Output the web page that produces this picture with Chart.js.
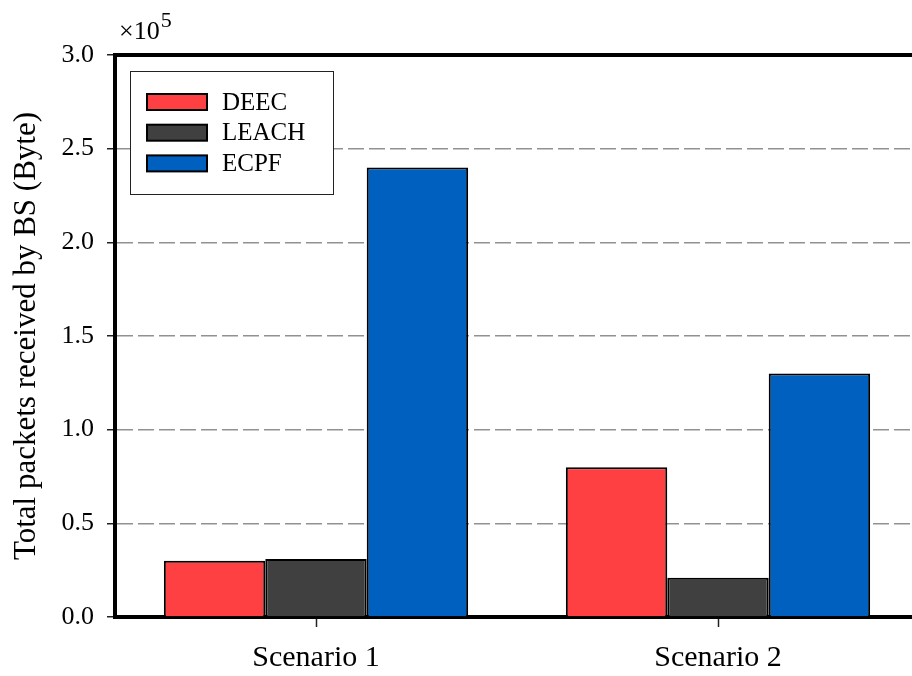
<!DOCTYPE html>
<html>
<head>
<meta charset="utf-8">
<script src="https://cdn.jsdelivr.net/npm/chart.js@4"></script>
<style>
  html, body { margin: 0; padding: 0; background: #fff; overflow: hidden; }
  #wrap { width: 912px; height: 676px; overflow: hidden; position: relative; }
  #chart { position: absolute; left: 0; top: 0; }
</style>
</head>
<body>
<div id="wrap"><canvas id="chart" width="924" height="676"></canvas></div>
<script>
// data (bytes)
const scenarios = ["Scenario 1", "Scenario 2"];
const deecValues = [30000, 80000];
const leachValues = [31000, 21000];
const ecpfValues = [240000, 130000];
const seriesNames = ["DEEC", "LEACH", "ECPF"];
const seriesColors = ["#ff4043", "#404040", "#0060c0"];

const yMax = 300000;
const yStep = 50000;
const serif = "'Liberation Serif', 'Times New Roman', serif";

// frame line on top + right of plot area
const framePlugin = {
  id: "frame",
  afterDraw(chart) {
    const { ctx, chartArea } = chart;
    ctx.save();
    ctx.strokeStyle = "#000";
    ctx.lineWidth = 4;
    ctx.beginPath();
    ctx.moveTo(chartArea.left, chartArea.top);
    ctx.lineTo(chartArea.right, chartArea.top);
    ctx.lineTo(chartArea.right, chartArea.bottom);
    ctx.stroke();

    // x10^5 multiplier
    ctx.fillStyle = "#000";
    ctx.textBaseline = "alphabetic";
    ctx.font = "26px " + serif;
    ctx.fillText("\u00d710", chartArea.left + 4, 39);
    const w = ctx.measureText("\u00d710").width;
    ctx.font = "22px " + serif;
    ctx.fillText("5", chartArea.left + 5 + w, 27);
    ctx.restore();
  }
};

// boxed legend in the upper left of the plot
const boxLegend = {
  id: "boxLegend",
  afterDraw(chart) {
    const { ctx, chartArea } = chart;
    const x0 = chartArea.left + 15, y0 = chartArea.top + 16;
    ctx.save();
    ctx.fillStyle = "#fff";
    ctx.fillRect(x0, y0, 203, 123);
    ctx.strokeStyle = "#222";
    ctx.lineWidth = 1;
    ctx.strokeRect(x0 + 0.5, y0 + 0.5, 203, 123);
    chart.data.datasets.forEach((ds, i) => {
      const cy = y0 + 31 + i * 30.7;
      ctx.fillStyle = ds.backgroundColor;
      ctx.fillRect(x0 + 17, cy - 8, 60, 16);
      ctx.strokeStyle = "#000";
      ctx.lineWidth = 2;
      ctx.strokeRect(x0 + 17, cy - 8, 60, 16);
      ctx.fillStyle = "#000";
      ctx.font = "25px " + serif;
      ctx.textBaseline = "middle";
      ctx.fillText(ds.label, x0 + 92, cy + 1);
    });
    ctx.restore();
  }
};

const allValues = [deecValues, leachValues, ecpfValues];

new Chart(document.getElementById("chart"), {
  type: "bar",
  data: {
    labels: scenarios,
    datasets: seriesNames.map((name, i) => ({
      label: name,
      data: allValues[i],
      backgroundColor: seriesColors[i],
      borderColor: "#000",
      borderWidth: 2,
      barPercentage: 1.0,
      categoryPercentage: 0.757
    }))
  },
  options: {
    responsive: false,
    animation: false,
    layout: { padding: { left: 0, top: 55, right: 5, bottom: 0 } },
    plugins: {
      legend: { display: false },
      tooltip: { enabled: false }
    },
    scales: {
      x: {
        offset: true,
        grid: {
          offset: false,
          drawOnChartArea: false,
          drawTicks: true,
          tickLength: 10,
          tickColor: "#222",
          tickWidth: 1.5
        },
        border: { display: true, color: "#000", width: 4 },
        ticks: {
          color: "#000",
          padding: 13,
          font: { family: serif, size: 30 }
        },
        afterFit(scale) { scale.height = 59; }
      },
      y: {
        min: 0,
        max: yMax,
        grid: {
          color: (c) => (c.tick && (c.tick.value === 0 || c.tick.value === yMax)) ? "rgba(0,0,0,0)" : "#919191",
          lineWidth: 1.5,
          tickLength: 8,
          tickColor: "#222",
          tickWidth: 1.5
        },
        border: { display: true, color: "#000", width: 4, dash: [16, 5] },
        ticks: {
          stepSize: yStep,
          color: "#000",
          padding: 13,
          font: { family: serif, size: 26 },
          callback: (v) => (v / 1e5).toFixed(1)
        },
        title: {
          display: true,
          text: "Total packets received by BS (Byte)",
          color: "#000",
          font: { family: serif, size: 31 },
          padding: { top: 8, bottom: 0 }
        },
        afterFit(scale) { scale.width = 115; }
      }
    }
  },
  plugins: [framePlugin, boxLegend, {
    id: "whiteBg",
    beforeDraw(chart) {
      const c = chart.ctx;
      c.save();
      c.fillStyle = "#fff";
      c.fillRect(0, 0, chart.width, chart.height);
      c.restore();
    }
  }]
});
</script>
</body>
</html>
